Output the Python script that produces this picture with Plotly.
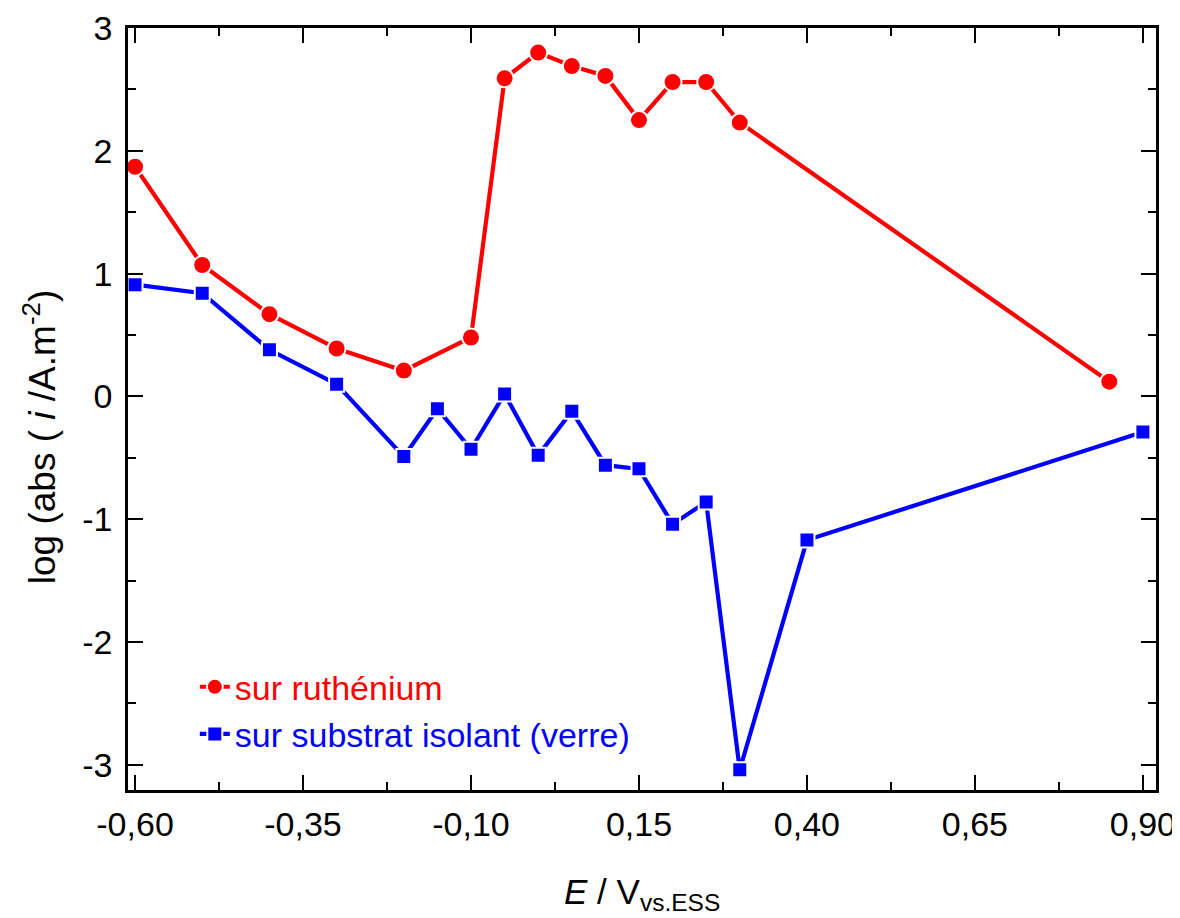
import plotly.graph_objects as go

# Data
ru_E = [-0.60, -0.50, -0.40, -0.30, -0.20, -0.10, -0.05, 0.00, 0.05, 0.10, 0.15, 0.20, 0.25, 0.30, 0.85]
ru_logi = [1.87, 1.07, 0.67, 0.39, 0.21, 0.48, 2.59, 2.80, 2.69, 2.61, 2.25, 2.56, 2.56, 2.23, 0.12]

glass_E = [-0.60, -0.50, -0.40, -0.30, -0.20, -0.15, -0.10, -0.05, 0.00, 0.05, 0.10, 0.15, 0.20, 0.25, 0.30, 0.40, 0.90]
glass_logi = [0.91, 0.84, 0.38, 0.10, -0.49, -0.10, -0.43, 0.02, -0.48, -0.12, -0.56, -0.59, -1.04, -0.86, -3.04, -1.17, -0.29]

x_tickvals = [-0.60, -0.35, -0.10, 0.15, 0.40, 0.65, 0.90]
x_ticktext = ["-0,60", "-0,35", "-0,10", "0,15", "0,40", "0,65", "0,90"]
y_tickvals = [-3, -2, -1, 0, 1, 2, 3]
y_ticktext = ["-3", "-2", "-1", "0", "1", "2", "3"]

FONT = "Liberation Sans, Arial, sans-serif"
RED = "#ff0000"
BLUE = "#0000ff"

fig = go.Figure()
fig.add_trace(go.Scatter(
    x=ru_E, y=ru_logi, mode="lines+markers",
    name="<span style='color:#ff0000'>sur ruthénium</span>",
    line=dict(color=RED, width=4.2),
    marker=dict(symbol="circle", size=18, color=RED, line=dict(color="white", width=2)),
))
fig.add_trace(go.Scatter(
    x=glass_E, y=glass_logi, mode="lines+markers",
    name="<span style='color:#0000ff'>sur substrat isolant (verre)</span>",
    line=dict(color=BLUE, width=4.2),
    marker=dict(symbol="square", size=15, color=BLUE, line=dict(color="white", width=2)),
))

axis_common = dict(
    showline=True, linecolor="black", linewidth=2.5, mirror="ticks",
    ticks="inside", ticklen=15, tickwidth=2.2, tickcolor="black",
    showgrid=False, zeroline=False, automargin=False,
    tickfont=dict(family=FONT, size=34, color="black"),
)

fig.update_xaxes(
    range=[-0.6105, 0.9195], tickmode="array", tickvals=x_tickvals, ticktext=x_ticktext,
    minor=dict(tick0=-0.6, dtick=0.125, ticks="inside", ticklen=8, tickwidth=2.2, tickcolor="black"),
    ticklabelstandoff=2,
    **axis_common,
)
fig.update_yaxes(
    range=[-3.205, 3.0], tickmode="array", tickvals=y_tickvals, ticktext=y_ticktext,
    minor=dict(tick0=0, dtick=0.5, ticks="inside", ticklen=8, tickwidth=2.2, tickcolor="black"),
    ticklabelstandoff=6,
    **axis_common,
)

fig.update_layout(
    width=1172, height=910,
    margin=dict(l=120, r=24, t=20, b=128, autoexpand=False),
    paper_bgcolor="white", plot_bgcolor="white",
    font=dict(family=FONT, size=34, color="black"),
    showlegend=True,
    legend=dict(
        x=0.065, y=0.173, xanchor="left", yanchor="top",
        bgcolor="rgba(0,0,0,0)", borderwidth=0,
        font=dict(family=FONT, size=34),
        tracegroupgap=0,
    ),
    annotations=[
        dict(text="<i>E</i> / V<sub>vs.ESS</sub>", xref="paper", yref="paper",
             x=0.5, y=-0.105, xanchor="center", yanchor="top", showarrow=False,
             font=dict(family=FONT, size=35, color="black")),
        dict(text="log (abs ( <i>i</i> /A.m<sup>-2</sup>)", xref="paper", yref="paper",
             x=-0.0856, y=0.463, xanchor="center", yanchor="middle", showarrow=False,
             textangle=-90, font=dict(family=FONT, size=37, color="black")),
    ],
)

fig.write_html("out.html")
